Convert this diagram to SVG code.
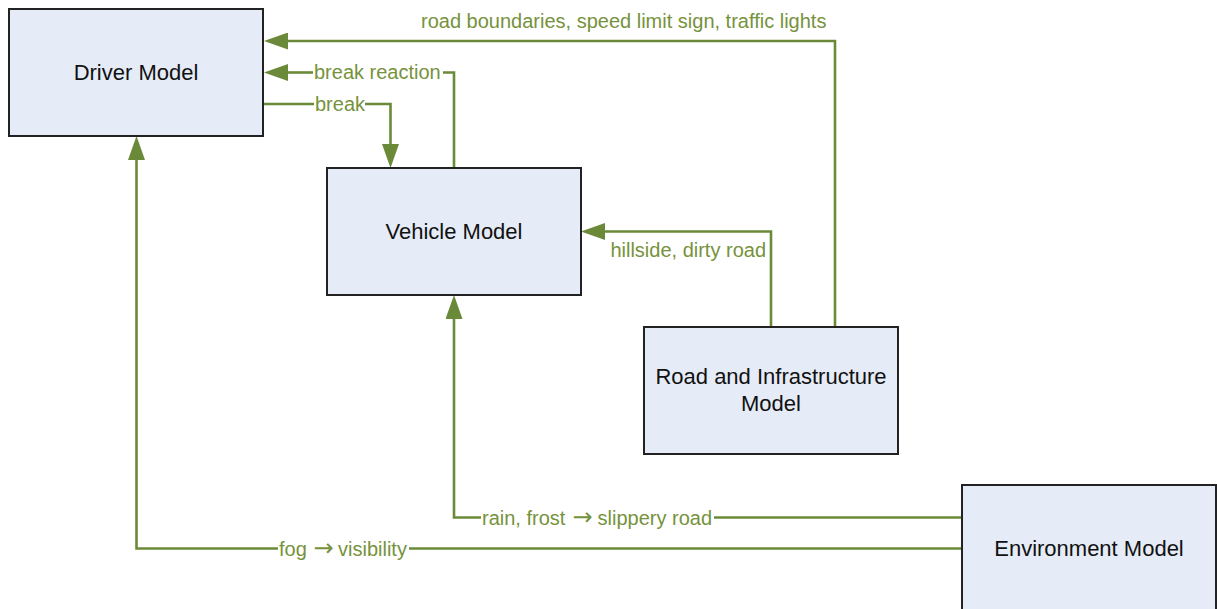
<svg xmlns="http://www.w3.org/2000/svg" width="1217" height="609" viewBox="0 0 1217 609">
<style>
  .box { fill: #E6ECF7; stroke: #222222; stroke-width: 2; }
  .nlabel { font-family: "Liberation Sans", Arial, sans-serif; font-size: 22px; fill: #111111; text-anchor: middle; }
  .conn { fill: none; stroke: #6B8A39; stroke-width: 2.6; }
  .elabel { font-family: "Liberation Sans", Arial, sans-serif; font-size: 20px; fill: #76923C; }
  .arr { font-family: "DejaVu Sans", sans-serif; font-size: 24px; }
</style>
<defs>
  <marker id="arrow" markerUnits="userSpaceOnUse" markerWidth="24" markerHeight="17" refX="0" refY="8.5" orient="auto" viewBox="0 0 24 17">
    <path d="M0,0 L24,8.5 L0,17 z" fill="#6B8A39"/>
  </marker>
</defs>
<rect width="1217" height="609" fill="#FFFFFF"/>

<g id="connectors">
  <g id="edge-road-driver">
    <path class="conn" d="M835,327 V41 H288" marker-end="url(#arrow)"/>
    <text class="elabel" x="421" y="28">road boundaries, speed limit sign, traffic lights</text>
  </g>
  <g id="edge-vehicle-driver">
    <path class="conn" d="M454,168 V72.5 H443"/>
    <path class="conn" d="M313,72.5 H288" marker-end="url(#arrow)"/>
    <text class="elabel" x="314" y="79">break reaction</text>
  </g>
  <g id="edge-driver-vehicle">
    <path class="conn" d="M264,104 H314"/>
    <path class="conn" d="M365,104 H390.5 V144" marker-end="url(#arrow)"/>
    <text class="elabel" x="315" y="111">break</text>
  </g>
  <g id="edge-road-vehicle">
    <path class="conn" d="M771,327 V231.5 H605" marker-end="url(#arrow)"/>
    <text class="elabel" x="766" y="257" text-anchor="end">hillside, dirty road</text>
  </g>
  <g id="edge-env-vehicle">
    <path class="conn" d="M962,517.5 H714"/>
    <path class="conn" d="M481,517.5 H454 V319" marker-end="url(#arrow)"/>
    <text class="elabel" y="524.5"><tspan x="482">rain, frost</tspan><tspan class="arr" x="572.5">→</tspan><tspan x="597.5">slippery road</tspan></text>
  </g>
  <g id="edge-env-driver">
    <path class="conn" d="M962,548.5 H409"/>
    <path class="conn" d="M278,548.5 H136.5 V160" marker-end="url(#arrow)"/>
    <text class="elabel" y="555.5"><tspan x="279">fog</tspan><tspan class="arr" x="313.5">→</tspan><tspan x="338">visibility</tspan></text>
  </g>
</g>

<g id="node-driver">
  <rect class="box" x="9" y="9" width="254" height="127"/>
  <text class="nlabel" x="136" y="80">Driver Model</text>
</g>
<g id="node-vehicle">
  <rect class="box" x="327" y="168" width="254" height="127"/>
  <text class="nlabel" x="454" y="239">Vehicle Model</text>
</g>
<g id="node-road">
  <rect class="box" x="644" y="327" width="254" height="127"/>
  <text class="nlabel" x="771" y="384">Road and Infrastructure</text>
  <text class="nlabel" x="771" y="411">Model</text>
</g>
<g id="node-environment">
  <rect class="box" x="962" y="485" width="254" height="127"/>
  <text class="nlabel" x="1089" y="556">Environment Model</text>
</g>
</svg>
